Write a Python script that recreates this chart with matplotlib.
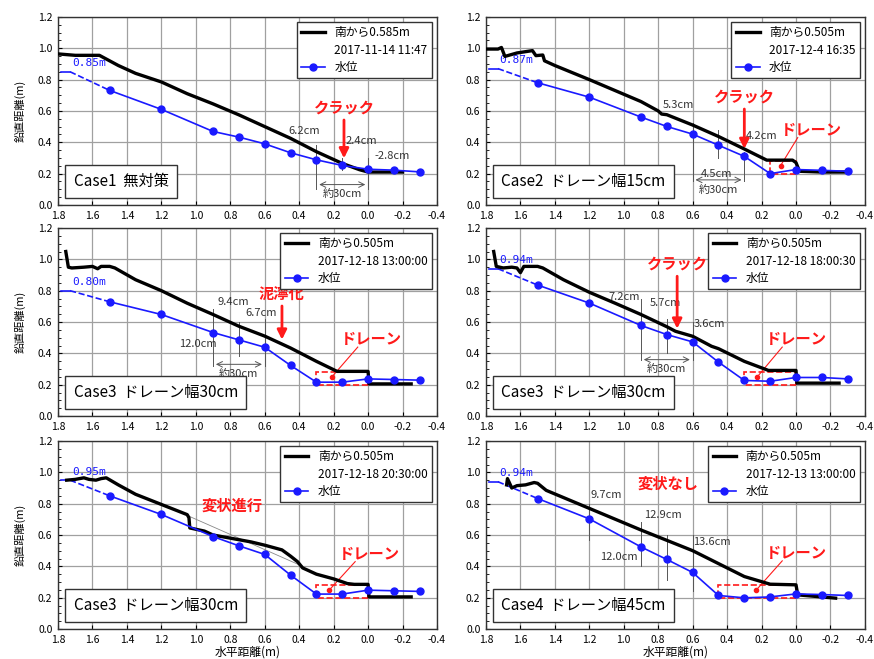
import numpy as np
import matplotlib.pyplot as plt
from matplotlib.lines import Line2D
from matplotlib.patches import Rectangle
from matplotlib.ticker import MultipleLocator

plt.rcParams['font.family'] = ['Noto Sans CJK JP', 'DejaVu Sans']

##########################################
#   data
##########################################
## water level gauges (horizontal distance, m)
gauge_x = [1.5, 1.2, 0.9, 0.75, 0.6, 0.45, 0.3, 0.15, 0.0, -0.15, -0.3]

level1 = [0.731, 0.610, 0.469, 0.433, 0.390, 0.333, 0.288, 0.252, 0.228, 0.222, 0.211]
level2 = [0.780, 0.688, 0.561, 0.501, 0.452, 0.381, 0.310, 0.200, 0.226, 0.221, 0.215]
level3 = [0.729, 0.648, 0.533, 0.486, 0.439, 0.323, 0.216, 0.216, 0.237, 0.233, 0.229]
level4 = [0.836, 0.721, 0.578, 0.520, 0.473, 0.344, 0.227, 0.222, 0.246, 0.246, 0.237]
level5 = [0.850, 0.731, 0.590, 0.531, 0.476, 0.344, 0.223, 0.223, 0.248, 0.244, 0.240]
level6 = [0.833, 0.703, 0.524, 0.444, 0.361, 0.214, 0.199, 0.205, 0.224, 0.220, 0.214]

## water level at the upstream end (m)
level_top = [0.85, 0.87, 0.80, 0.94, 0.95, 0.94]

## slope surface profiles
prof1_x = [1.80, 1.70, 1.60, 1.56, 1.45, 1.35, 1.20, 1.05, 0.90, 0.75, 0.60, 0.45, 0.30, 0.15, 0.05, 0.00, -0.10, -0.20]
prof1_y = [0.964, 0.955, 0.955, 0.955, 0.89, 0.84, 0.785, 0.71, 0.645, 0.575, 0.50, 0.425, 0.34, 0.265, 0.225, 0.21, 0.21, 0.21]

prof2_x = [1.80, 1.73, 1.71, 1.69, 1.62, 1.53, 1.51, 1.47, 1.46, 1.40, 1.20, 1.05, 0.90, 0.80, 0.78, 0.75, 0.60, 0.45, 0.30, 0.17, 0.02, 0.00, -0.02, -0.15, -0.28]
prof2_y = [0.995, 0.995, 1.005, 0.948, 0.97, 0.985, 0.953, 0.957, 0.92, 0.89, 0.80, 0.73, 0.66, 0.60, 0.58, 0.576, 0.51, 0.437, 0.357, 0.286, 0.286, 0.27, 0.215, 0.21, 0.21]

prof3_x = [1.755, 1.74, 1.72, 1.65, 1.60, 1.57, 1.55, 1.50, 1.47, 1.35, 1.20, 1.05, 0.90, 0.75, 0.60, 0.45, 0.30, 0.18, 0.15, 0.00, -0.005, -0.25]
prof3_y = [1.05, 0.95, 0.945, 0.95, 0.955, 0.94, 0.955, 0.955, 0.945, 0.87, 0.80, 0.72, 0.648, 0.573, 0.51, 0.434, 0.349, 0.285, 0.285, 0.285, 0.205, 0.205]

prof4_x = [1.755, 1.74, 1.70, 1.65, 1.62, 1.60, 1.58, 1.55, 1.50, 1.47, 1.35, 1.20, 1.05, 0.90, 0.75, 0.70, 0.60, 0.49, 0.45, 0.30, 0.16, 0.00, -0.005, -0.25]
prof4_y = [1.05, 0.955, 0.945, 0.95, 0.945, 0.915, 0.955, 0.955, 0.955, 0.945, 0.87, 0.79, 0.72, 0.648, 0.57, 0.541, 0.509, 0.445, 0.43, 0.349, 0.291, 0.291, 0.21, 0.21]

prof5_x = [1.75, 1.70, 1.65, 1.62, 1.58, 1.55, 1.52, 1.45, 1.35, 1.20, 1.05, 1.04, 1.035, 0.95, 0.90, 0.80, 0.68, 0.60, 0.50, 0.45, 0.41, 0.38, 0.30, 0.20, 0.12, 0.08, 0.00, -0.005, -0.25]
prof5_y = [0.95, 0.955, 0.965, 0.955, 0.95, 0.96, 0.965, 0.92, 0.86, 0.795, 0.73, 0.71, 0.645, 0.625, 0.60, 0.58, 0.556, 0.535, 0.505, 0.465, 0.43, 0.39, 0.35, 0.32, 0.29, 0.285, 0.285, 0.205, 0.205]

prof6_x = [1.68, 1.675, 1.65, 1.62, 1.57, 1.52, 1.50, 1.45, 1.20, 0.90, 0.60, 0.30, 0.15, 0.00, -0.01, -0.23]
prof6_y = [0.92, 0.96, 0.90, 0.915, 0.92, 0.935, 0.93, 0.885, 0.77, 0.632, 0.50, 0.335, 0.286, 0.282, 0.218, 0.197]

## texts
profile_names = ['南から0.585m', '南から0.505m', '南から0.505m', '南から0.505m', '南から0.505m', '南から0.505m']
timestamps = ['2017-11-14 11:47', '2017-12-4 16:35', '2017-12-18 13:00:00',
              '2017-12-18 18:00:30', '2017-12-18 20:30:00', '2017-12-13 13:00:00']
case_labels = ['Case1  無対策', 'Case2  ドレーン幅15cm', 'Case3  ドレーン幅30cm',
               'Case3  ドレーン幅30cm', 'Case3  ドレーン幅30cm', 'Case4  ドレーン幅45cm']
## drain upstream edge (m), None = no drain
drain_left = [None, 0.15, 0.3, 0.3, 0.3, 0.45]

levels = [level1, level2, level3, level4, level5, level6]
profiles = [(prof1_x, prof1_y), (prof2_x, prof2_y), (prof3_x, prof3_y),
            (prof4_x, prof4_y), (prof5_x, prof5_y), (prof6_x, prof6_y)]

BLUE = '#1a1aff'
RED = '#ff1a1a'
GRAY = '#555555'

##########################################
#   figure
##########################################
fig = plt.figure(figsize=(8.74, 6.59), dpi=100)
col_left = [0.0664, 0.556]
row_bottom = [0.689, 0.3687, 0.0455]
axes = []
for r in range(3):
    for c in range(2):
        axes.append(fig.add_axes([col_left[c], row_bottom[r], 0.4336, 0.2853]))

for i, ax in enumerate(axes):
    px, py = profiles[i]
    ax.plot(px, py, color='black', lw=2.4, zorder=4)
    ## upstream water level: short solid + dashed to first gauge
    ax.plot([1.78, 1.73], [level_top[i], level_top[i]], color=BLUE, lw=1.2, zorder=3)
    ax.plot([1.73, gauge_x[0]], [level_top[i], levels[i][0]], color=BLUE, lw=1.2, ls='--', zorder=3)
    ax.plot(gauge_x, levels[i], color=BLUE, lw=1.2, marker='o', ms=5, zorder=5)
    ax.text(1.72, level_top[i] + 0.055, '%.2fm' % level_top[i], color=BLUE, fontsize=8,
            family=['DejaVu Sans Mono'], va='center', ha='left')

    ## drain
    if drain_left[i] is not None:
        ax.add_patch(Rectangle((0.0, 0.2), drain_left[i], 0.08, fill=False, ec=RED, lw=1.2,
                               ls='--', zorder=2))

    ## case label
    ax.text(1.71, 0.15, case_labels[i], fontsize=11, va='center', ha='left', zorder=6,
            bbox=dict(boxstyle='square,pad=0.55', fc='white', ec='#333333', lw=1.0))

    ## legend
    handles = [Line2D([], [], color='black', lw=2.4),
               Line2D([], [], color='none'),
               Line2D([], [], color=BLUE, lw=1.2, marker='o', ms=5)]
    leg = ax.legend(handles, [profile_names[i], timestamps[i], '水位'], loc='upper right',
                    fontsize=8.5, fancybox=False, framealpha=1, edgecolor='#333333',
                    handlelength=2.0, borderaxespad=0.4, labelspacing=0.35)
    leg.get_frame().set_linewidth(1.0)
    leg.set_zorder(7)

    ax.set_xlim(1.8, -0.4)
    ax.set_ylim(0.0, 1.2)
    ax.xaxis.set_major_locator(MultipleLocator(0.2))
    ax.yaxis.set_major_locator(MultipleLocator(0.2))
    ax.yaxis.set_minor_locator(MultipleLocator(0.05))
    ax.set_xticklabels(['%.1f' % v for v in ax.get_xticks()])
    ax.set_yticklabels(['%.1f' % v for v in ax.get_yticks()])
    ax.tick_params(labelsize=7.5, direction='in', length=3, pad=4)
    ax.tick_params(which='minor', direction='in', length=2)
    ax.grid(True, color='#a0a0a0', lw=0.9)
    ax.set_axisbelow(True)
    for s in ax.spines.values():
        s.set_color('#333333')
        s.set_linewidth(1.0)
    if i % 2 == 0:
        ax.set_ylabel('鉛直距離(m)', fontsize=8, labelpad=9)
    if i >= 4:
        ax.set_xlabel('水平距離(m)', fontsize=8.5, labelpad=1)


def gap(ax, x, y0, y1):
    ax.plot([x, x], [y0, y1], color=GRAY, lw=0.7, zorder=3)


def span(ax, x0, x1, y, label):
    ax.annotate('', xy=(x1, y), xytext=(x0, y),
                arrowprops=dict(arrowstyle='<->', color=GRAY, lw=0.7))
    ax.text((x0 + x1) / 2, y - 0.03, label, fontsize=8, color='#333333', ha='center', va='top')


def red_arrow(ax, x, y0, y1, label):
    ax.annotate('', xy=(x, y1), xytext=(x, y0),
                arrowprops=dict(arrowstyle='-|>', color=RED, lw=2.0, mutation_scale=14))
    ax.text(x, y0 + 0.01, label, fontsize=11, color=RED, fontweight='bold', ha='center', va='bottom')


def drain_note(ax, tx, ty, dx, dy):
    ax.text(tx, ty, 'ドレーン', fontsize=11, color=RED, fontweight='bold', ha='center', va='center')
    ax.plot([tx + 0.08, dx], [ty - 0.05, dy], color=RED, lw=0.8)
    ax.plot(dx, dy, marker='o', color=RED, ms=3)


def note(ax, x, y, s):
    ax.text(x, y, s, fontsize=8, color='#333333', ha='center', va='center')


## Case1
ax = axes[0]
gap(ax, 0.3, 0.1, 0.38); gap(ax, 0.15, 0.22, 0.3); gap(ax, 0.0, 0.1, 0.3)
span(ax, 0.3, 0.0, 0.13, '約30cm')
note(ax, 0.37, 0.47, '6.2cm'); note(ax, 0.04, 0.41, '2.4cm'); note(ax, -0.14, 0.31, '-2.8cm')
red_arrow(ax, 0.14, 0.56, 0.28, 'クラック')

## Case2
ax = axes[1]
gap(ax, 0.6, 0.15, 0.52); gap(ax, 0.45, 0.3, 0.48); gap(ax, 0.3, 0.15, 0.34)
span(ax, 0.6, 0.3, 0.16, '約30cm')
note(ax, 0.68, 0.64, '5.3cm'); note(ax, 0.46, 0.2, '4.5cm'); note(ax, 0.2, 0.44, '4.2cm')
red_arrow(ax, 0.3, 0.63, 0.34, 'クラック')
drain_note(ax, -0.09, 0.48, 0.09, 0.25)

## Case3 13:00
ax = axes[2]
gap(ax, 0.9, 0.32, 0.68); gap(ax, 0.75, 0.38, 0.6); gap(ax, 0.6, 0.32, 0.62)
span(ax, 0.9, 0.6, 0.33, '約30cm')
note(ax, 0.78, 0.73, '9.4cm'); note(ax, 0.62, 0.66, '6.7cm'); note(ax, 0.99, 0.46, '12.0cm')
red_arrow(ax, 0.5, 0.72, 0.47, '泥濘化')
drain_note(ax, -0.02, 0.49, 0.21, 0.25)

## Case3 18:00
ax = axes[3]
gap(ax, 0.9, 0.36, 0.75); gap(ax, 0.75, 0.4, 0.62); gap(ax, 0.6, 0.36, 0.6)
span(ax, 0.9, 0.6, 0.36, '約30cm')
note(ax, 1.0, 0.76, '7.2cm'); note(ax, 0.76, 0.72, '5.7cm'); note(ax, 0.5, 0.59, '3.6cm')
red_arrow(ax, 0.69, 0.91, 0.54, 'クラック')
drain_note(ax, 0.0, 0.49, 0.225, 0.25)

## Case3 20:30
ax = axes[4]
ax.plot([1.05, 0.38], [0.725, 0.40], color='#888888', lw=0.6, zorder=3)
ax.text(0.79, 0.79, '変状進行', fontsize=11, color=RED, fontweight='bold', ha='center', va='center')
drain_note(ax, -0.005, 0.48, 0.226, 0.248)

## Case4
ax = axes[5]
gap(ax, 1.2, 0.57, 0.8); gap(ax, 0.9, 0.4, 0.68); gap(ax, 0.75, 0.31, 0.6); gap(ax, 0.6, 0.24, 0.6)
note(ax, 1.1, 0.855, '9.7cm'); note(ax, 0.77, 0.73, '12.9cm'); note(ax, 0.49, 0.556, '13.6cm')
note(ax, 1.03, 0.457, '12.0cm')
ax.text(0.74, 0.93, '変状なし', fontsize=11, color=RED, fontweight='bold', ha='center', va='center')
drain_note(ax, 0.0, 0.485, 0.233, 0.246)

plt.savefig('out.png', dpi=100)
